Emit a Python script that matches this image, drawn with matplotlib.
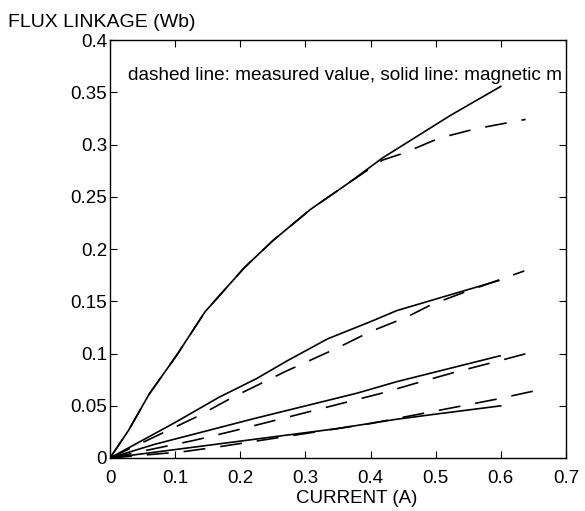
import matplotlib
matplotlib.use("Agg")
import matplotlib.pyplot as plt

plt.rcParams['font.family'] = ['Liberation Sans', 'DejaVu Sans']
plt.rcParams['lines.scale_dashes'] = False

# Data (current in A, flux linkage in Wb)
i1_model = [0, 0.028, 0.06, 0.102, 0.146, 0.206, 0.25, 0.308, 0.366, 0.418, 0.523, 0.601]
f1_model = [0, 0.026, 0.061, 0.098, 0.140, 0.182, 0.208, 0.238, 0.263, 0.287, 0.328, 0.356]
i1_meas = [0, 0.028, 0.06, 0.102, 0.146, 0.206, 0.25, 0.308, 0.366, 0.418, 0.452, 0.505, 0.561, 0.638]
f1_meas = [0, 0.026, 0.061, 0.098, 0.140, 0.182, 0.208, 0.238, 0.263, 0.285, 0.292, 0.306, 0.315, 0.324]

i2_model = [0, 0.1, 0.167, 0.225, 0.272, 0.334, 0.402, 0.44, 0.505, 0.598]
f2_model = [0, 0.034, 0.058, 0.076, 0.093, 0.114, 0.131, 0.141, 0.153, 0.170]
i2_meas = [0, 0.135, 0.188, 0.27, 0.348, 0.40, 0.456, 0.494, 0.55, 0.636]
f2_meas = [0, 0.040, 0.058, 0.083, 0.105, 0.121, 0.135, 0.147, 0.160, 0.179]

i3_model = [0, 0.068, 0.223, 0.379, 0.44, 0.60]
f3_model = [0, 0.013, 0.038, 0.062, 0.073, 0.098]
i3_meas = [0, 0.13, 0.19, 0.285, 0.417, 0.472, 0.529, 0.585, 0.658]
f3_meas = [0, 0.017, 0.026, 0.041, 0.062, 0.072, 0.082, 0.091, 0.103]

i4_model = [0, 0.223, 0.347, 0.439, 0.5, 0.601]
f4_model = [0, 0.018, 0.028, 0.037, 0.042, 0.050]
i4_meas = [0, 0.112, 0.17, 0.285, 0.40, 0.50, 0.591, 0.650]
f4_meas = [0, 0.006, 0.011, 0.022, 0.033, 0.045, 0.056, 0.064]

xticks = [0, 0.1, 0.2, 0.3, 0.4, 0.5, 0.6, 0.7]
xticklabels = ['0', '0.1', '0.2', '0.3', '0.4', '0.5', '0.6', '0.7']
yticks = [0, 0.05, 0.1, 0.15, 0.2, 0.25, 0.3, 0.35, 0.4]
yticklabels = ['0', '0.05', '0.1', '0.15', '0.2', '0.25', '0.3', '0.35', '0.4']

W, H = 585, 511
fig = plt.figure(figsize=(W / 100, H / 100), dpi=100)
left, right, top, bottom = 110, 566, 40, 458
ax = fig.add_axes([left / W, 1 - bottom / H, (right - left) / W, (bottom - top) / H])

dash = (0, (15.8, 10.8))
for xm, ym, xd, yd in [(i1_model, f1_model, i1_meas, f1_meas),
                       (i2_model, f2_model, i2_meas, f2_meas),
                       (i3_model, f3_model, i3_meas, f3_meas),
                       (i4_model, f4_model, i4_meas, f4_meas)]:
    ax.plot(xm, ym, color='black', lw=1.2, solid_capstyle='butt')
    ax.plot(xd, yd, color='black', lw=1.2, linestyle=dash, dash_capstyle='butt')

ax.set_xlim(0, 0.7)
ax.set_ylim(0, 0.4)
ax.set_xticks(xticks)
ax.set_xticklabels(xticklabels)
ax.set_yticks(yticks)
ax.set_yticklabels(yticklabels)
ax.tick_params(direction='in', length=5, width=0.8, top=True, right=True,
               labelsize=13.5)
ax.tick_params(axis='x', pad=8.5)
ax.tick_params(axis='y', pad=2)
for s in ax.spines.values():
    s.set_linewidth(1.0)

ax.text(0.028, 0.362, 'dashed line: measured value, solid line: magnetic m',
        fontsize=13.7, ha='left', va='baseline')

fig.text(8 / W, 1 - 27 / H, 'FLUX LINKAGE (Wb)', fontsize=14,
         ha='left', va='baseline')
fig.text(357 / W, 1 - 503 / H, 'CURRENT (A)', fontsize=13.5,
         ha='center', va='baseline')

fig.savefig('out.png', dpi=100)
